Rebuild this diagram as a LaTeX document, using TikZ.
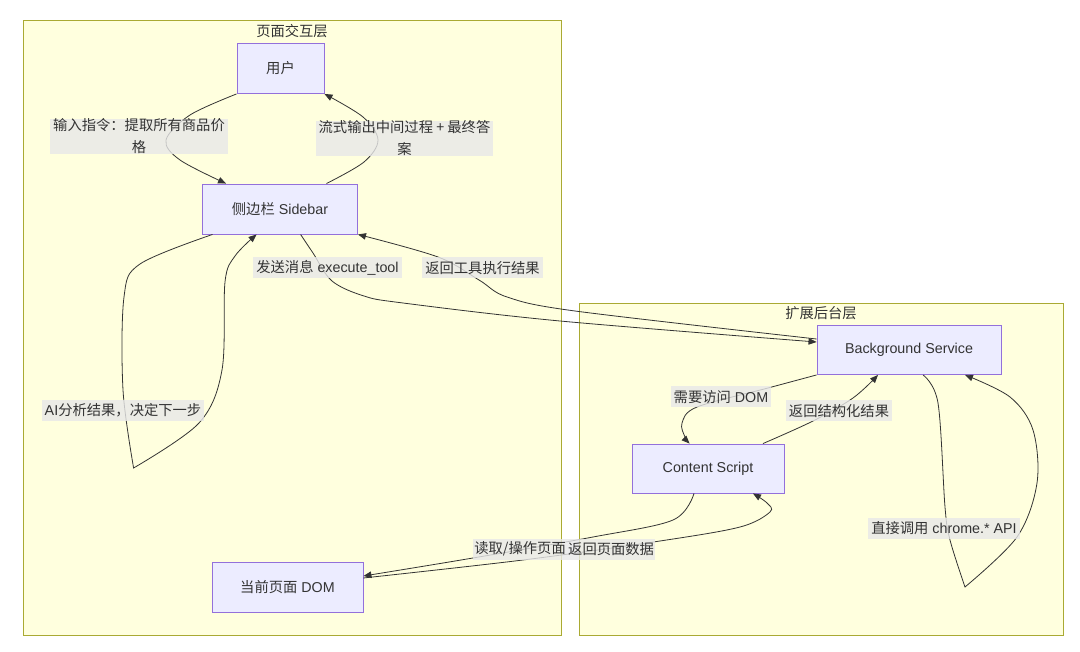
\documentclass[tikz,border=0pt]{standalone}
\usepackage{fontspec}
\setmainfont{Liberation Sans}
\newfontfamily\cjk{Noto Sans CJK SC}
\usetikzlibrary{arrows.meta,calc}
\definecolor{clfill}{HTML}{FFFFDE}
\definecolor{clline}{HTML}{AAAA33}
\definecolor{ndfill}{HTML}{ECECFF}
\definecolor{ndline}{HTML}{9370DB}
\definecolor{txt}{HTML}{333333}
\definecolor{lblbg}{HTML}{E8E8E8}
\begin{document}
\begin{tikzpicture}[x=1pt,y=-1pt,
  every node/.style={font=\fontsize{14.3}{22}\selectfont, text=txt},
  cluster/.style={draw=clline, fill=clfill, line width=0.8pt},
  box/.style={draw=ndline, fill=ndfill, line width=0.9pt, inner sep=0pt},
  lbl/.style={fill=lblbg, fill opacity=0.8, text opacity=1, inner xsep=3pt, inner ysep=0pt, minimum height=21pt, align=center},
  edge/.style={draw=txt, line width=0.8pt, -{Triangle[length=8pt,width=6.5pt]}},
  sm/.style={smooth, tension=0.55}
]
\useasboundingbox (0,0) rectangle (1080,652);
\fill[white] (0,0) rectangle (1080,652);

% clusters
\draw[cluster] (23,20) rectangle (561,635);
\draw[cluster] (579,303) rectangle (1063,635);
\node (t1) at (292,31) {\cjk 页面交互层};
\node (t2) at (821,313) {\cjk 扩展后台层};

% nodes
\node[box, minimum width=87pt, minimum height=50pt] (user) at (280.5,68.5) {\cjk 用户};
\node[box, minimum width=155pt, minimum height=50pt] (sidebar) at (280,209) {{\cjk 侧边栏} Sidebar};
\node[box, minimum width=151pt, minimum height=50pt] (dom) at (287.5,587) {{\cjk 当前页面} DOM};
\node[box, minimum width=184pt, minimum height=49pt] (bs) at (909,350) {Background Service};
\node[box, minimum width=152pt, minimum height=49pt] (cs) at (708,468.5) {Content Script};

% edges
\draw[edge] plot[sm] coordinates {(user.south west) (190,115) (166,140) (180,160) ($(sidebar.north west)+(24,0)$)};
\draw[edge] plot[sm] coordinates {($(sidebar.north east)+(-31.5,0)$) (364,162) (378,140) (363,117) (user.south east)};
\draw[edge] plot[sm] coordinates {($(sidebar.south west)+(10.5,0)$) (140,264) (124,297) (123,390) (133.6,468)}
  -- plot[sm] coordinates {(133.6,468) (199,423) (222,370) (225,282) (235,256) ($(sidebar.south west)+(54.5,0)$)};
\draw[edge] plot[sm] coordinates {($(sidebar.south)+(20.6,0)$) (313,253) (332,281) (364,296) (403,303) (560,321) ($(bs.west)+(0,-8)$)};
\draw[edge] plot[sm] coordinates {($(bs.west)+(0,-11)$) (575,311) (507,297) (479,280) (438,257) (sidebar.south east)};
\draw[edge] plot[sm] coordinates {(bs.south west) (768,388) (697,407) (682,423) (685,437) ($(cs.north west)+(58,0)$)};
\draw[edge] plot[sm] coordinates {($(cs.north)+(55,0)$) (813,421) (853,398) ($(bs.south)+(-31,0)$)};
\draw[edge] plot[sm] coordinates {($(bs.south)+(14,0)$) (938,403) (945,507) (950,540) (965,587)}
  -- plot[sm] coordinates {(965,587) (1017,537) (1037,483) (1033,430) (1010,397) ($(bs.south)+(56,0)$)};
\draw[edge] plot[sm] coordinates {($(cs.south)+(-14,0)$) (673,520) (593,537) (467,559) ($(dom.east)+(0,-11)$)};
\draw[edge] plot[sm] coordinates {($(dom.east)+(0,-9)$) (523,560) (660,541) (740,527) (770,512) (767,503) ($(cs.south)+(45,0)$)};

% labels
\node[lbl] (l1) at (139,136.5) {\cjk 输入指令：提取所有商品价\\\cjk 格};
\node[lbl] (l2) at (404.5,138.5) {\cjk 流式输出中间过程 + 最终答\\\cjk 案};
\node[lbl] (l3) at (123,410.5) {AI{\cjk 分析结果，决定下一步}};
\node[lbl] (l4) at (327.5,267.5) {{\cjk 发送消息} execute\_tool};
\node[lbl] (l5) at (482.5,268) {\cjk 返回工具执行结果};
\node[lbl] (l6) at (721,397) {{\cjk 需要访问} DOM};
\node[lbl] (l7) at (839,411) {\cjk 返回结构化结果};
\node[lbl] (l8) at (944,528) {{\cjk 直接调用} chrome.* API};
\node[lbl, inner xsep=1pt, anchor=east] (l9) at (567,549) {\cjk 读取/操作页面};
\node[lbl, inner xsep=1pt, anchor=west] (l10) at (l9.east) {\cjk 返回页面数据};
\end{tikzpicture}
\end{document}
